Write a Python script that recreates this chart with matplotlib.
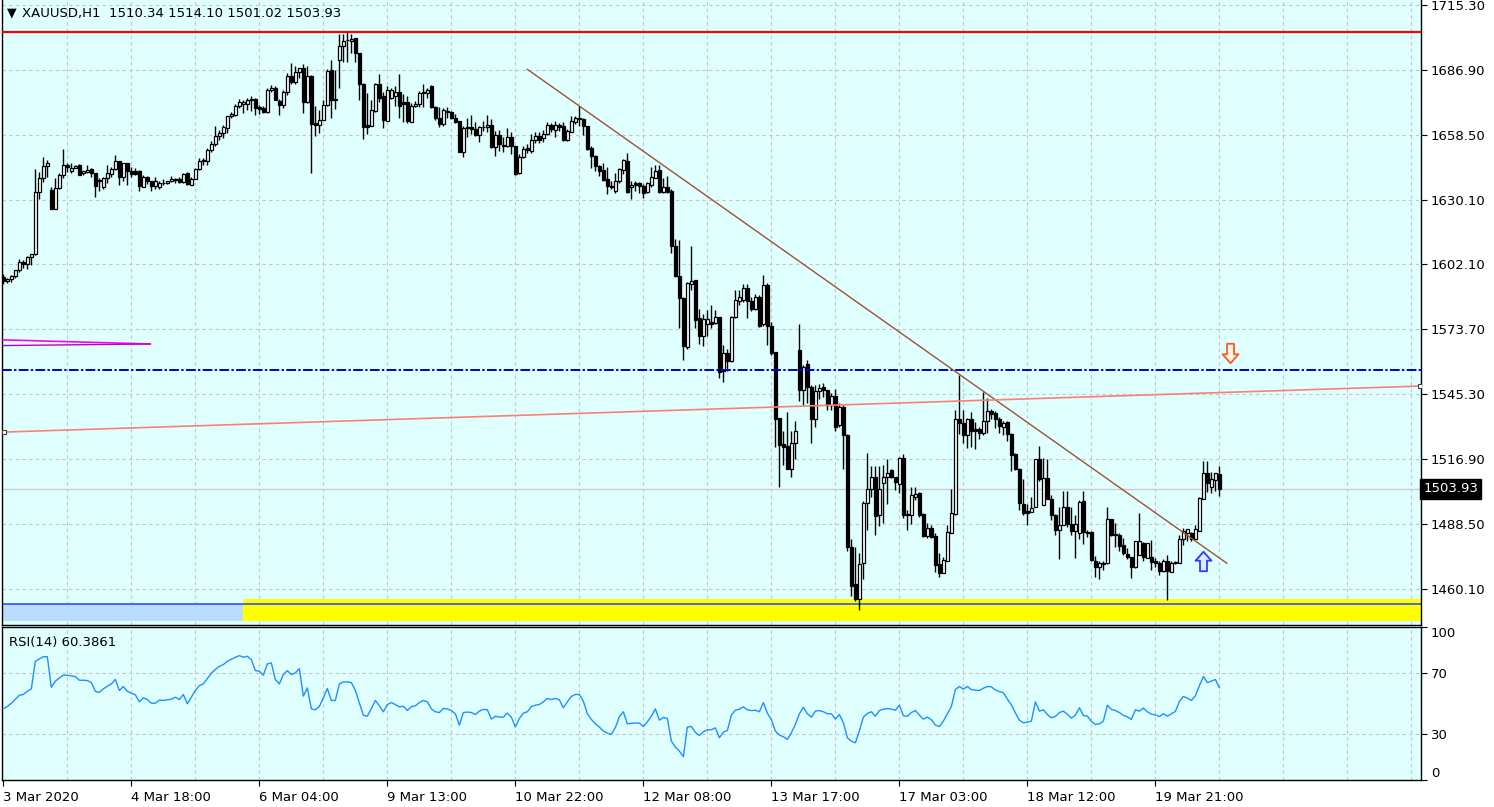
import matplotlib
matplotlib.use("Agg")
import matplotlib.pyplot as plt
import matplotlib.transforms as mtransforms
from matplotlib.path import Path
import numpy as np

W, H = 1494, 807

# XAUUSD H1 bars (one value per hourly bar, oldest first)
opens = [
    1596.5, 1594.8, 1595.7, 1597.0, 1599.5, 1603.0, 1602.4, 1605.3, 1606.5, 1633.7,
    1639.8, 1645.1, 1634.5, 1626.1, 1635.4, 1641.0, 1645.4, 1642.7, 1644.2, 1645.4,
    1641.9, 1642.4, 1643.6, 1642.1, 1638.9, 1635.7, 1639.8, 1641.6, 1643.6, 1647.4,
    1640.1, 1646.2, 1643.0, 1642.7, 1643.0, 1635.7, 1640.4, 1638.3, 1636.3, 1636.0,
    1637.8, 1637.5, 1638.4, 1639.3, 1639.6, 1638.1, 1641.9, 1636.7, 1639.3, 1643.7,
    1647.2, 1647.2, 1652.1, 1654.8, 1658.0, 1659.4, 1661.8, 1666.8, 1667.3, 1671.4,
    1672.3, 1672.0, 1674.0, 1674.3, 1670.8, 1670.3, 1668.5, 1678.1, 1679.3, 1673.5,
    1671.7, 1677.5, 1684.3, 1681.9, 1686.0, 1687.8, 1672.9, 1684.6, 1663.8, 1662.9,
    1665.3, 1671.7, 1686.9, 1674.3, 1691.6, 1697.7, 1700.0, 1699.7, 1700.9, 1694.5,
    1681.1, 1663.0, 1662.4, 1669.1, 1681.1, 1675.8, 1664.7, 1674.9, 1675.8, 1677.2,
    1672.9, 1673.2, 1664.4, 1671.1, 1672.3, 1677.0, 1677.0, 1680.2, 1670.8, 1666.2,
    1663.2, 1668.5, 1668.7, 1666.2, 1664.6, 1651.4, 1662.2, 1662.2, 1661.3, 1658.4,
    1662.2, 1661.9, 1663.0, 1653.4, 1658.7, 1654.3, 1653.7, 1657.8, 1653.7, 1641.8,
    1648.8, 1652.8, 1651.7, 1656.6, 1658.1, 1657.2, 1659.0, 1663.0, 1661.0, 1663.0,
    1662.4, 1656.3, 1660.1, 1664.5, 1666.2, 1665.4, 1662.5, 1652.8, 1649.6, 1645.0,
    1643.5, 1639.2, 1636.3, 1634.0, 1638.3, 1643.3, 1647.4, 1635.9, 1637.5, 1637.5,
    1636.3, 1633.7, 1636.9, 1639.8, 1643.3, 1633.7, 1635.7, 1634.3, 1610.0, 1596.9,
    1587.2, 1565.9, 1593.7, 1595.1, 1578.5, 1570.6, 1576.2, 1577.1, 1576.5, 1579.1,
    1555.4, 1563.3, 1559.8, 1579.1, 1586.1, 1586.7, 1591.9, 1586.1, 1582.6, 1587.8,
    1576.0, 1593.0, 1575.2, 1563.8, 1535.0, 1523.6, 1522.7, 1512.5, 1524.2, 1564.7,
    1547.2, 1558.6, 1548.4, 1534.7, 1546.6, 1548.4, 1547.2, 1540.8, 1544.6, 1531.8,
    1539.6, 1527.7, 1478.5, 1462.4, 1456.0, 1471.5, 1497.7, 1503.8, 1509.3, 1492.5,
    1506.7, 1509.3, 1512.2, 1509.0, 1506.1, 1517.5, 1493.0, 1492.4, 1500.6, 1502.0,
    1493.0, 1483.4, 1486.9, 1483.4, 1471.2, 1467.1, 1472.6, 1484.9, 1493.0, 1534.4,
    1532.6, 1527.4, 1534.7, 1530.0, 1530.0, 1528.3, 1533.8, 1537.9, 1537.0, 1534.7,
    1530.9, 1533.2, 1528.0, 1519.2, 1512.8, 1497.4, 1494.5, 1493.9, 1496.2, 1516.9,
    1497.1, 1508.8, 1499.4, 1492.7, 1486.0, 1488.4, 1495.9, 1488.6, 1485.7, 1484.8,
    1498.6, 1485.1, 1485.1, 1472.6, 1469.7, 1471.2, 1471.5, 1490.7, 1484.3, 1484.0,
    1479.3, 1475.5, 1474.1, 1469.7, 1474.9, 1480.2, 1473.8, 1474.1, 1472.3, 1471.8,
    1468.0, 1472.3, 1467.7, 1471.5, 1471.8, 1481.9, 1484.6, 1484.6, 1482.2, 1485.7,
    1499.7, 1511.1, 1505.0, 1507.9, 1510.34,
]
highs = [
    1597.8, 1596.3, 1597.5, 1599.8, 1604.5, 1603.9, 1605.9, 1606.8, 1643.9, 1642.4,
    1649.2, 1647.7, 1636.0, 1639.8, 1641.9, 1652.7, 1646.2, 1646.5, 1645.4, 1645.9,
    1643.0, 1645.4, 1644.2, 1642.1, 1639.8, 1640.1, 1645.4, 1644.5, 1649.7, 1647.4,
    1646.5, 1646.2, 1644.5, 1644.2, 1643.3, 1641.0, 1640.7, 1638.6, 1640.1, 1638.5,
    1639.3, 1638.4, 1640.5, 1639.9, 1640.2, 1641.9, 1642.5, 1640.2, 1644.3, 1648.4,
    1648.4, 1653.0, 1656.2, 1662.4, 1660.9, 1662.9, 1667.0, 1668.5, 1672.0, 1674.3,
    1673.8, 1674.6, 1675.8, 1674.6, 1671.7, 1671.1, 1679.0, 1680.5, 1680.2, 1674.3,
    1678.4, 1685.7, 1690.1, 1688.6, 1688.1, 1689.5, 1688.9, 1684.9, 1671.1, 1669.4,
    1673.8, 1687.5, 1691.6, 1686.9, 1702.7, 1702.7, 1703.5, 1702.9, 1701.2, 1694.5,
    1681.4, 1677.0, 1674.0, 1681.4, 1685.4, 1677.3, 1679.9, 1679.0, 1680.2, 1685.4,
    1676.7, 1675.5, 1672.6, 1673.5, 1677.9, 1681.1, 1679.3, 1680.5, 1671.1, 1670.8,
    1670.5, 1670.8, 1669.1, 1667.9, 1664.8, 1662.5, 1665.9, 1667.4, 1664.5, 1662.5,
    1664.8, 1667.4, 1665.7, 1660.4, 1660.7, 1657.8, 1661.6, 1660.1, 1654.0, 1650.2,
    1654.0, 1654.6, 1659.2, 1659.8, 1659.8, 1660.7, 1664.5, 1663.9, 1664.8, 1663.9,
    1664.5, 1661.3, 1667.1, 1666.8, 1671.2, 1665.9, 1662.7, 1654.0, 1649.9, 1645.6,
    1646.4, 1644.7, 1638.6, 1642.1, 1644.2, 1648.3, 1650.6, 1638.3, 1638.3, 1638.0,
    1637.2, 1638.0, 1644.8, 1645.4, 1645.4, 1639.8, 1640.7, 1634.8, 1613.2, 1612.9,
    1587.8, 1594.2, 1610.0, 1595.4, 1582.6, 1580.2, 1582.0, 1584.3, 1582.3, 1579.1,
    1566.8, 1565.0, 1579.4, 1590.8, 1591.0, 1593.7, 1593.4, 1587.8, 1589.0, 1588.5,
    1597.5, 1594.0, 1577.0, 1563.8, 1535.0, 1529.2, 1537.6, 1529.2, 1533.5, 1576.0,
    1558.0, 1560.3, 1549.2, 1549.2, 1549.8, 1550.4, 1547.2, 1545.7, 1547.8, 1541.4,
    1540.5, 1528.0, 1482.2, 1478.8, 1475.8, 1498.6, 1519.5, 1514.0, 1514.0, 1514.0,
    1514.6, 1516.9, 1512.8, 1509.3, 1518.1, 1519.2, 1494.8, 1505.0, 1505.0, 1502.6,
    1493.6, 1488.9, 1488.4, 1484.9, 1475.8, 1474.4, 1488.1, 1503.8, 1538.5, 1553.6,
    1538.5, 1535.0, 1537.6, 1533.2, 1531.2, 1546.3, 1543.7, 1538.7, 1537.9, 1535.5,
    1533.8, 1533.5, 1528.3, 1519.5, 1513.1, 1508.5, 1497.4, 1500.3, 1517.2, 1522.7,
    1517.5, 1517.2, 1501.2, 1493.0, 1496.2, 1503.2, 1503.2, 1496.2, 1492.4, 1499.1,
    1502.9, 1486.0, 1485.4, 1474.7, 1472.6, 1472.6, 1495.9, 1491.0, 1489.2, 1484.6,
    1482.5, 1478.2, 1474.4, 1481.1, 1493.3, 1480.8, 1480.5, 1481.7, 1473.8, 1472.3,
    1473.5, 1474.9, 1472.3, 1472.3, 1483.7, 1486.9, 1486.6, 1485.2, 1488.4, 1500.3,
    1516.0, 1516.0, 1511.4, 1511.1, 1514.10,
]
lows = [
    1593.7, 1594.0, 1594.3, 1596.3, 1598.9, 1600.4, 1600.1, 1601.6, 1606.2, 1630.8,
    1638.0, 1640.1, 1626.1, 1626.1, 1634.8, 1639.8, 1642.4, 1642.1, 1644.0, 1641.0,
    1641.3, 1641.9, 1640.1, 1631.6, 1634.2, 1634.8, 1637.5, 1640.4, 1643.3, 1636.6,
    1638.6, 1636.6, 1640.1, 1641.0, 1634.0, 1635.7, 1637.2, 1634.0, 1635.1, 1635.2,
    1636.7, 1637.0, 1637.9, 1637.8, 1637.6, 1637.8, 1636.7, 1636.7, 1639.3, 1643.4,
    1645.7, 1645.4, 1651.0, 1653.9, 1656.5, 1657.4, 1659.7, 1666.2, 1666.8, 1670.2,
    1668.2, 1669.7, 1669.1, 1667.3, 1667.9, 1668.2, 1668.2, 1677.5, 1673.8, 1667.3,
    1670.2, 1676.1, 1681.1, 1681.1, 1683.7, 1668.2, 1672.6, 1641.9, 1658.0, 1659.7,
    1665.3, 1671.1, 1665.9, 1670.0, 1679.3, 1690.4, 1690.4, 1694.5, 1690.7, 1674.0,
    1656.8, 1658.9, 1662.4, 1668.8, 1672.9, 1661.5, 1664.7, 1674.3, 1671.4, 1665.9,
    1664.4, 1663.8, 1664.4, 1670.8, 1670.8, 1670.8, 1674.9, 1670.5, 1665.0, 1662.1,
    1662.6, 1666.2, 1665.6, 1663.8, 1651.1, 1649.1, 1657.8, 1659.0, 1658.1, 1655.7,
    1660.4, 1659.8, 1652.8, 1649.6, 1651.7, 1651.4, 1653.4, 1650.5, 1641.2, 1641.5,
    1648.5, 1650.8, 1650.8, 1655.2, 1654.9, 1655.7, 1658.7, 1659.8, 1657.8, 1660.4,
    1656.0, 1656.0, 1659.8, 1663.3, 1662.7, 1658.7, 1652.2, 1644.1, 1642.9, 1640.6,
    1638.3, 1632.8, 1635.1, 1633.4, 1637.8, 1641.6, 1633.1, 1630.5, 1634.2, 1633.4,
    1631.3, 1633.1, 1636.0, 1639.8, 1633.4, 1633.4, 1633.4, 1607.1, 1596.6, 1574.4,
    1560.4, 1565.3, 1590.8, 1574.4, 1567.1, 1566.2, 1570.9, 1574.4, 1575.9, 1552.5,
    1550.8, 1555.4, 1559.5, 1578.8, 1584.3, 1585.5, 1578.5, 1581.7, 1582.3, 1574.9,
    1575.0, 1567.0, 1562.5, 1522.2, 1505.0, 1514.3, 1512.5, 1509.3, 1516.9, 1542.5,
    1540.5, 1541.7, 1524.2, 1530.9, 1543.4, 1544.0, 1538.5, 1538.5, 1529.4, 1530.9,
    1512.8, 1477.0, 1457.2, 1454.9, 1451.1, 1464.5, 1486.0, 1500.6, 1483.7, 1487.8,
    1489.2, 1497.4, 1508.7, 1503.5, 1502.3, 1491.3, 1486.0, 1488.6, 1499.1, 1491.8,
    1483.1, 1482.5, 1482.5, 1467.7, 1465.6, 1467.1, 1472.3, 1484.6, 1492.7, 1528.0,
    1524.2, 1521.8, 1522.4, 1521.3, 1525.9, 1527.4, 1528.6, 1534.4, 1530.6, 1528.3,
    1527.4, 1525.1, 1511.7, 1512.2, 1494.8, 1492.7, 1488.4, 1493.9, 1496.0, 1507.6,
    1496.8, 1499.4, 1490.4, 1484.0, 1473.2, 1488.1, 1487.5, 1483.7, 1473.8, 1481.9,
    1479.9, 1483.0, 1472.6, 1465.3, 1464.5, 1468.5, 1471.2, 1483.4, 1478.7, 1476.7,
    1475.0, 1473.2, 1465.0, 1469.4, 1474.9, 1472.6, 1473.8, 1468.5, 1470.0, 1466.2,
    1467.7, 1455.4, 1467.7, 1471.2, 1471.5, 1479.6, 1481.4, 1481.4, 1481.9, 1485.4,
    1499.7, 1502.6, 1502.3, 1502.9, 1501.02,
]
closes = [
    1594.8, 1595.7, 1597.0, 1599.5, 1603.0, 1602.4, 1605.3, 1606.5, 1633.7, 1639.8,
    1645.1, 1646.2, 1626.1, 1635.4, 1641.0, 1645.6, 1644.5, 1644.2, 1645.1, 1641.3,
    1642.7, 1643.3, 1641.9, 1636.3, 1638.3, 1639.8, 1641.9, 1643.9, 1647.4, 1640.1,
    1646.5, 1642.7, 1641.6, 1641.6, 1636.3, 1640.4, 1638.3, 1636.3, 1638.6, 1637.8,
    1637.5, 1638.4, 1639.3, 1639.0, 1638.1, 1641.4, 1637.0, 1639.6, 1643.9, 1647.2,
    1647.5, 1652.1, 1654.8, 1658.0, 1659.7, 1662.1, 1666.8, 1667.9, 1671.4, 1672.9,
    1672.9, 1674.0, 1674.3, 1670.3, 1670.0, 1668.8, 1678.1, 1679.3, 1674.0, 1671.7,
    1677.5, 1684.3, 1681.6, 1686.0, 1687.8, 1672.9, 1684.6, 1663.5, 1662.9, 1665.3,
    1671.7, 1686.6, 1673.8, 1673.8, 1697.7, 1699.7, 1700.3, 1700.6, 1694.5, 1681.1,
    1662.1, 1662.1, 1669.4, 1681.1, 1674.9, 1665.0, 1678.1, 1678.1, 1677.2, 1671.4,
    1672.0, 1664.7, 1671.4, 1672.3, 1677.0, 1677.3, 1678.4, 1670.8, 1665.9, 1663.2,
    1669.4, 1669.1, 1665.9, 1664.5, 1651.4, 1661.6, 1661.6, 1661.3, 1658.4, 1662.2,
    1661.9, 1663.0, 1653.4, 1658.7, 1654.6, 1653.7, 1657.8, 1653.7, 1641.5, 1649.1,
    1652.5, 1652.0, 1656.6, 1658.1, 1656.6, 1659.2, 1663.0, 1661.3, 1663.0, 1662.2,
    1656.6, 1660.4, 1664.8, 1666.2, 1665.4, 1662.5, 1652.5, 1649.6, 1645.0, 1642.9,
    1638.9, 1636.2, 1635.7, 1638.6, 1643.9, 1647.7, 1633.7, 1636.9, 1636.9, 1636.3,
    1633.4, 1637.5, 1640.1, 1643.0, 1633.7, 1636.0, 1633.7, 1610.0, 1596.9, 1587.2,
    1566.2, 1593.9, 1594.8, 1577.9, 1570.9, 1578.2, 1578.2, 1576.2, 1579.1, 1555.1,
    1563.3, 1559.8, 1579.1, 1586.4, 1587.8, 1591.9, 1586.1, 1582.6, 1587.8, 1575.2,
    1593.0, 1575.0, 1563.5, 1534.7, 1523.3, 1522.4, 1512.5, 1523.9, 1529.2, 1547.2,
    1557.4, 1548.4, 1534.7, 1546.6, 1548.1, 1547.2, 1540.8, 1544.6, 1531.2, 1539.6,
    1527.4, 1478.8, 1461.6, 1456.0, 1471.2, 1498.0, 1503.8, 1509.3, 1492.2, 1503.8,
    1509.0, 1510.8, 1509.0, 1507.0, 1517.5, 1492.7, 1492.5, 1501.2, 1501.7, 1492.7,
    1483.4, 1486.9, 1483.1, 1470.9, 1467.1, 1472.9, 1485.1, 1493.3, 1534.4, 1532.6,
    1527.7, 1534.7, 1529.4, 1529.1, 1528.6, 1533.8, 1537.9, 1536.7, 1534.7, 1531.5,
    1532.6, 1528.0, 1518.9, 1512.8, 1498.0, 1493.6, 1493.6, 1495.6, 1516.9, 1508.5,
    1508.8, 1499.7, 1492.7, 1486.0, 1488.4, 1495.9, 1488.6, 1485.4, 1488.6, 1498.3,
    1485.1, 1484.8, 1472.9, 1469.7, 1471.5, 1471.8, 1490.7, 1484.0, 1483.7, 1479.0,
    1475.8, 1474.1, 1470.0, 1481.1, 1481.1, 1474.4, 1480.2, 1472.0, 1471.8, 1468.2,
    1472.3, 1467.9, 1471.8, 1472.0, 1482.2, 1485.7, 1486.3, 1482.2, 1486.6, 1500.0,
    1511.1, 1506.4, 1508.2, 1510.8, 1503.93,
]
# RSI(14) as drawn in the lower window
rsi14 = [
    46.7, 48.0, 50.2, 52.8, 55.4, 55.9, 58.0, 59.6, 77.6, 79.1,
    80.6, 80.6, 60.6, 64.6, 66.7, 68.5, 68.5, 68.0, 67.6, 65.2,
    65.2, 65.0, 63.7, 58.0, 57.2, 59.6, 61.3, 62.8, 65.7, 58.5,
    61.1, 58.0, 56.7, 55.7, 51.1, 53.7, 52.6, 50.2, 50.2, 52.2,
    52.0, 52.4, 52.8, 54.1, 52.6, 55.9, 49.8, 54.1, 58.5, 61.7,
    62.8, 66.3, 69.8, 72.2, 74.3, 75.4, 77.6, 78.9, 80.2, 81.3,
    80.2, 80.9, 78.7, 71.5, 71.1, 68.5, 75.9, 76.5, 65.7, 62.8,
    68.9, 71.5, 68.9, 70.0, 72.8, 54.8, 60.2, 46.5, 45.9, 48.0,
    53.7, 59.8, 52.0, 52.0, 62.8, 64.1, 64.1, 63.7, 58.5, 50.4,
    42.4, 41.7, 46.7, 52.0, 48.5, 44.6, 49.3, 50.6, 49.3, 47.8,
    48.2, 45.4, 48.0, 48.5, 50.6, 52.0, 51.1, 46.5, 44.6, 44.1,
    46.7, 46.5, 45.4, 43.3, 35.9, 44.1, 44.4, 44.1, 42.8, 45.0,
    46.1, 45.9, 39.8, 41.7, 41.1, 41.1, 43.7, 41.1, 34.6, 40.2,
    43.7, 44.6, 48.0, 48.9, 49.3, 51.1, 53.3, 52.6, 53.3, 52.4,
    47.2, 51.1, 54.6, 55.9, 55.9, 51.5, 43.3, 39.6, 36.7, 34.6,
    32.0, 30.6, 29.8, 34.2, 41.3, 44.6, 36.7, 37.0, 37.2, 37.2,
    35.0, 38.0, 41.7, 46.5, 39.1, 40.9, 40.2, 25.4, 21.5, 18.9,
    15.2, 34.6, 35.0, 31.1, 29.1, 31.5, 32.8, 32.8, 34.1, 27.6,
    31.3, 32.4, 42.4, 45.6, 46.3, 47.8, 45.9, 45.4, 45.6, 44.6,
    50.6, 43.7, 39.4, 32.0, 29.4, 28.3, 26.5, 30.9, 36.3, 43.3,
    47.6, 43.3, 41.1, 45.0, 45.4, 44.6, 43.3, 43.3, 39.8, 42.8,
    37.4, 27.6, 25.4, 24.3, 32.0, 41.1, 43.5, 44.6, 41.7, 45.4,
    46.3, 46.7, 46.3, 45.6, 48.9, 42.0, 41.7, 44.1, 45.4, 42.4,
    39.8, 41.1, 39.4, 35.9, 35.0, 38.5, 43.3, 48.0, 59.1, 61.1,
    59.4, 61.1, 59.1, 58.7, 58.5, 60.0, 61.1, 60.9, 58.9, 57.8,
    57.0, 52.8, 49.1, 43.9, 39.1, 37.4, 37.8, 38.5, 51.1, 45.0,
    45.9, 42.8, 40.7, 41.5, 44.1, 45.0, 43.0, 40.4, 42.4, 47.2,
    42.2, 41.7, 38.3, 36.3, 36.7, 38.5, 48.9, 46.1, 45.4, 44.1,
    42.2, 41.3, 39.6, 45.9, 45.0, 47.0, 44.6, 43.0, 42.6, 41.5,
    43.3, 41.7, 43.3, 44.8, 51.3, 54.6, 53.5, 52.0, 55.0, 61.7,
    67.6, 63.7, 64.6, 65.7, 60.3861,
]

time_labels = ["3 Mar 2020", "4 Mar 18:00", "6 Mar 04:00", "9 Mar 13:00", "10 Mar 22:00",
               "12 Mar 08:00", "13 Mar 17:00", "17 Mar 03:00", "18 Mar 12:00", "19 Mar 21:00"]
label_bars = [0, 32, 64, 96, 128, 160, 192, 224, 256, 288]
price_ticks = [1460.10, 1488.50, 1516.90, 1545.30, 1573.70, 1602.10, 1630.10, 1658.50, 1686.90, 1715.30]
rsi_ticks = [0, 30, 70, 100]

# objects on the chart
resistance = 1703.7
blue_level = 1555.8
trend_bars = [131.0, 305.85]
trend_prices = [1687.3, 1471.5]
channel_bars = [0.2, 354.2]
channel_prices = [1528.8, 1548.9]
magenta_bars = [0.0, 36.7]
magenta_a = [1569.1, 1567.3]
magenta_b = [1566.6, 1567.3]
zone_start = 60.0
zone_top, zone_bottom = 1455.9, 1446.3
zone_line = 1453.7
sell_arrow = (306.7, 1563.5)
buy_arrow = (300.0, 1472.4)

BG = "#E0FFFF"
GRID = "#C8C4C4"

n = len(closes)
x = np.arange(n)
o = np.array(opens)
c = np.array(closes)
hi = np.array(highs)
lo = np.array(lows)

# hollow block arrow used by the terminal for signals
up_arrow = Path([(-0.36, -1.0), (0.36, -1.0), (0.36, 0.08), (0.82, 0.08), (0.0, 1.0),
                 (-0.82, 0.08), (-0.36, 0.08), (-0.36, -1.0)], closed=True)
down_arrow = Path([(px, -py) for px, py in up_arrow.vertices], closed=True)

fig = plt.figure(figsize=(W / 100, H / 100), dpi=100)
fig.patch.set_facecolor("white")
ax = fig.add_axes([2 / W, 1 - 625 / H, 1419 / W, 625 / H])
ax2 = fig.add_axes([2 / W, 1 - 780 / H, 1419 / W, 153 / H], sharex=ax)
xmin, xmax = -0.33, 354.4

for a in (ax, ax2):
    a.set_facecolor(BG)
    for b in range(16, 355, 16):
        a.axvline(b, color=GRID, lw=0.8, ls=(0, (3, 3)), zorder=0)
    for s in a.spines.values():
        s.set_color("black")
        s.set_linewidth(1.0)
    a.yaxis.tick_right()
    a.tick_params(axis="y", which="both", direction="out", length=4, labelsize=9.5,
                  colors="black", pad=3)

# main window
for p in price_ticks:
    ax.axhline(p, color=GRID, lw=0.8, ls=(0, (3, 3)), zorder=0)
ax.axhline(c[-1], color="#D6C8C8", lw=1.0, zorder=1)

# zone at the bottom
ax.fill_between([xmin, zone_start], zone_bottom, zone_line, color="#B9DCFF", zorder=1, lw=0)
ax.fill_between([zone_start, xmax], zone_bottom, zone_top, color="#FFFF00", zorder=1, lw=0)
ax.axhline(zone_line, color="#3050FF", lw=1.2, zorder=2)

up = c >= o
body_lo = np.minimum(o, c)
body_h = np.maximum(np.abs(c - o), 0.3)
ax.vlines(x, lo, hi, color="black", lw=1.0, zorder=3)
ax.bar(x[up], body_h[up], bottom=body_lo[up], width=0.6, color="white",
       edgecolor="black", linewidth=0.9, zorder=4)
ax.bar(x[~up], body_h[~up], bottom=body_lo[~up], width=0.6, color="black",
       edgecolor="black", linewidth=0.9, zorder=4)

ax.axhline(resistance, color="#FF0000", lw=1.6, zorder=5)
ax.plot([xmin, xmax], [blue_level, blue_level], color="#0000CD", lw=1.4,
        dashes=(5, 1.2, 1.2, 1.2), zorder=5)
ax.plot(trend_bars, trend_prices, color="#A0522D", lw=1.0, zorder=5)
ax.plot(channel_bars, channel_prices, color="#FA8072", lw=1.2, zorder=5,
        marker="s", ms=3.5, mfc="white", mec="#404040", mew=0.8)
ax.plot(magenta_bars, magenta_a, color="#FF00FF", lw=1.2, zorder=5)
ax.plot(magenta_bars, magenta_b, color="#C000C0", lw=1.0, zorder=5)

ax.plot([sell_arrow[0]], [sell_arrow[1]], marker=down_arrow, ms=14, mfc="#FFF4E6",
        mec="#FF5A1E", mew=1.3, zorder=6, ls="none")
ax.plot([buy_arrow[0]], [buy_arrow[1]], marker=up_arrow, ms=14, mfc="#DDEBFF",
        mec="#2F3BFF", mew=1.3, zorder=6, ls="none")

ax.set_xlim(xmin, xmax)
ax.set_ylim(1444.5, 1717.6)
ax.set_yticks(price_ticks)
ax.set_yticklabels([f"{p:.2f}" for p in price_ticks])
ax.spines["top"].set_visible(False)
ax.tick_params(axis="x", length=0, labelbottom=False)

trans = mtransforms.blended_transform_factory(ax.transAxes, ax.transData)
ax.text(1.0015, c[-1], f"{c[-1]:.2f}", transform=trans, ha="left", va="center",
        color="white", fontsize=9.5, zorder=10, clip_on=False,
        bbox=dict(boxstyle="square,pad=0.25", fc="black", ec="black"))

fig.text(7 / W, 1 - 13 / H, "\u25bc", fontsize=9, va="center", ha="left")
fig.text(22 / W, 1 - 13 / H,
         f"XAUUSD,H1  {opens[-1]:.2f} {highs[-1]:.2f} {lows[-1]:.2f} {closes[-1]:.2f}",
         fontsize=9.5, va="center", ha="left")

# RSI window
for lvl in (30, 70):
    ax2.axhline(lvl, color=GRID, lw=0.8, ls=(0, (3, 3)), zorder=0)
ax2.plot(x, rsi14, color="#1E90FF", lw=1.0, zorder=3)
ax2.set_ylim(0, 100)
ax2.set_yticks(rsi_ticks)
ax2.set_yticklabels([str(v) for v in rsi_ticks])
for lab, v in zip(ax2.get_yticklabels(), rsi_ticks):
    if v == 100:
        lab.set_va("top")
    elif v == 0:
        lab.set_va("bottom")
ax2.text(7 / 1419, 0.94, f"RSI(14) {rsi14[-1]:.4f}", transform=ax2.transAxes,
         fontsize=9.5, ha="left", va="top")

ax2.set_xticks(label_bars)
ax2.set_xticklabels(time_labels, ha="left")
ax2.tick_params(axis="x", direction="out", length=4, pad=4, labelsize=9.5)

fig.savefig("out.png", dpi=100, facecolor="white")
